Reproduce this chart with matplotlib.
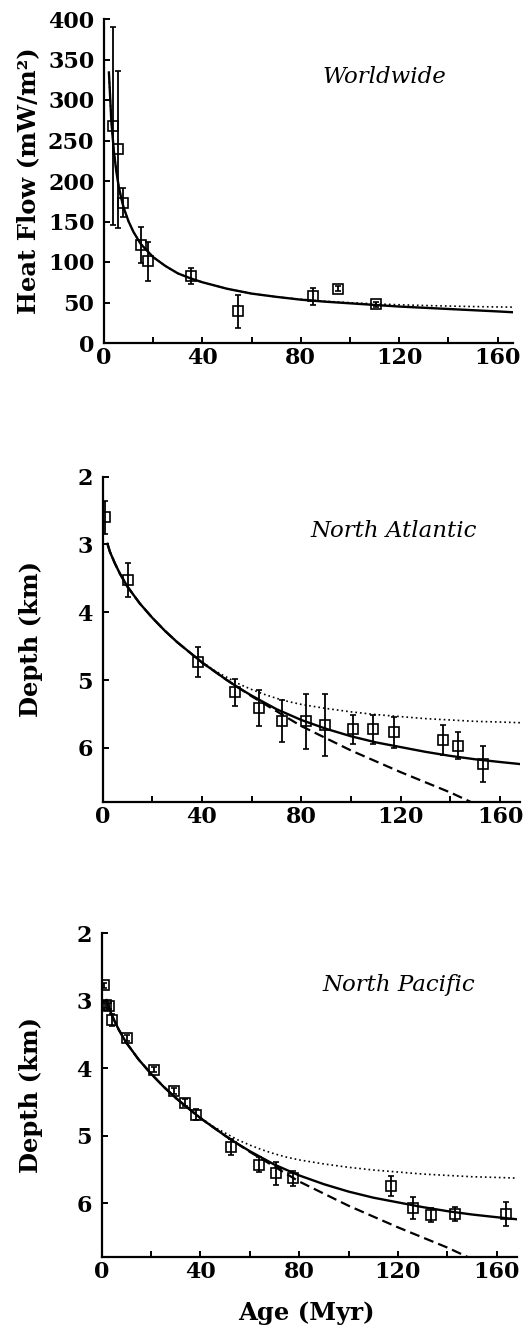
import numpy as np
import matplotlib.pyplot as plt

# --- worldwide heat flow data (age Myr, heat flow mW/m2, error)
hf_age = [3.7, 5.8, 7.8, 15.0, 17.9, 35.2, 54.6, 85.0, 95.3, 110.4]
hf_val = [268, 239, 173, 121, 101, 83, 39, 57.5, 67, 48]
hf_err = [122, 97, 18, 22, 24, 10, 20, 10, 3, 3]

# heat flow model curves
hf_model_age = [2, 3, 4, 5, 6, 7, 8, 10, 12, 15, 20, 25, 30, 35, 40, 50, 60, 70,
                80, 90, 100, 110, 120, 130, 140, 150, 160, 166]
hf_solid = [334, 273, 237, 212, 193, 179, 167, 150, 137, 122, 106, 95, 86, 80, 75,
            67, 61, 57, 53.5, 51, 49, 47, 45, 43.5, 42, 40.5, 39, 38]
hf_dotted = [334, 273, 237, 212, 193, 179, 167, 150, 137, 122, 106, 95, 86, 80, 75,
             67, 61, 57, 54, 51.5, 49.8, 48.3, 47.2, 46.3, 45.6, 45, 44.5, 44.3]

# --- North Atlantic depth data
na_age = [1.1, 10.2, 38.6, 53.4, 63.0, 72.2, 81.9, 89.6, 101.0, 109.0, 117.1,
          137.2, 143.2, 153.3]
na_depth = [2.60, 3.53, 4.74, 5.18, 5.41, 5.61, 5.61, 5.66, 5.73, 5.73, 5.77,
            5.89, 5.97, 6.24]
na_err = [0.24, 0.25, 0.22, 0.20, 0.27, 0.31, 0.41, 0.46, 0.21, 0.22, 0.23,
          0.22, 0.20, 0.27]

# --- North Pacific depth data
np_age = [0.9, 2.0, 3.0, 4.3, 10.4, 21.3, 29.5, 33.7, 38.2, 52.6, 63.7, 70.5,
          77.6, 117.2, 126.3, 133.4, 143.3, 163.8]
np_depth = [2.77, 3.07, 3.08, 3.29, 3.55, 4.02, 4.34, 4.51, 4.69, 5.17, 5.43,
            5.56, 5.63, 5.75, 6.07, 6.18, 6.16, 6.16]
np_err = [0.04, 0.04, 0.04, 0.09, 0.04, 0.04, 0.04, 0.05, 0.08, 0.12, 0.11,
          0.17, 0.11, 0.15, 0.16, 0.10, 0.10, 0.18]

# depth model curves (same in both depth panels)
d_model_age = [2, 3, 5, 7, 10, 15, 20, 25, 30, 35, 40, 45, 50, 55, 60, 65, 70, 75,
               80, 90, 100, 110, 120, 130, 140, 150, 160, 168]
d_solid = [2.99, 3.11, 3.28, 3.43, 3.62, 3.87, 4.08, 4.27, 4.44, 4.59, 4.74, 4.87,
           5.00, 5.12, 5.23, 5.33, 5.43, 5.51, 5.59, 5.72, 5.83, 5.92, 5.99, 6.06,
           6.12, 6.17, 6.21, 6.24]
d_dotted = [2.99, 3.11, 3.28, 3.43, 3.62, 3.87, 4.08, 4.27, 4.44, 4.59, 4.73, 4.86,
            4.96, 5.06, 5.14, 5.21, 5.27, 5.32, 5.36, 5.42, 5.47, 5.51, 5.54, 5.57,
            5.59, 5.61, 5.62, 5.63]
d_dash_age = [2, 3, 5, 7, 10, 15, 20, 25, 30, 35, 40, 45, 50, 55, 60, 65, 70, 75,
              80, 90, 100, 110, 120, 130, 140, 150]
d_dashed = [2.99, 3.11, 3.28, 3.43, 3.62, 3.87, 4.08, 4.27, 4.44, 4.59, 4.74, 4.87,
            5.00, 5.12, 5.24, 5.35, 5.46, 5.57, 5.68, 5.86, 6.04, 6.20, 6.36, 6.51,
            6.66, 6.83]

W, H = 528, 1327
fig = plt.figure(figsize=(W / 100, H / 100), dpi=100)

def px_axes(left, top, right, bottom):
    return fig.add_axes([left / W, 1 - bottom / H, (right - left) / W, (bottom - top) / H])

tickfont = dict(family='DejaVu Serif', weight='bold', size=16)
labfont = dict(family='DejaVu Serif', weight='bold', size=17.5)

def style(ax):
    for s in ['top', 'right']:
        ax.spines[s].set_visible(False)
    for s in ['left', 'bottom']:
        ax.spines[s].set_linewidth(1.6)
    ax.tick_params(direction='in', length=4, width=1.4, which='both')
    ax.tick_params(axis='x', pad=3)
    ax.tick_params(axis='y', pad=7)
    ax.set_xticks([0, 40, 80, 120, 160])
    ax.set_xticks([20, 60, 100, 140], minor=True)
    for t in ax.get_xticklabels() + ax.get_yticklabels():
        t.set_fontfamily(tickfont['family'])
        t.set_fontweight(tickfont['weight'])
        t.set_fontsize(tickfont['size'])

eb = dict(fmt='s', mfc='none', mec='black', ms=7.5, mew=1.2, ecolor='black',
          elinewidth=1.3, capsize=2.5, capthick=1.3, color='black')

# ---- Worldwide heat flow
ax1 = px_axes(104, 19, 513, 343)
ax1.plot(hf_model_age, hf_dotted, color='black', lw=1.2, ls=(0, (1, 1.8)))
ax1.plot(hf_model_age, hf_solid, color='black', lw=1.7)
ax1.errorbar(hf_age, hf_val, yerr=hf_err, **eb)
ax1.set_xlim(0, 166.3)
ax1.set_ylim(0, 400)
ax1.set_yticks(np.arange(0, 401, 50))
style(ax1)
ax1.set_ylabel('Heat Flow (mW/m²)', **labfont)
ax1.yaxis.set_label_coords(-0.155, 0.5)
ax1.text(114, 329, 'Worldwide', family='DejaVu Serif', style='italic', size=16.5,
         ha='center', va='center')

# ---- depth panels
def depth_panel(ax, age, depth, err, name, tx, ty):
    ax.plot(d_model_age, d_dotted, color='black', lw=1.2, ls=(0, (1, 1.8)))
    ax.plot(d_dash_age, d_dashed, color='black', lw=1.6, ls=(0, (4.5, 2.3)))
    ax.plot(d_model_age, d_solid, color='black', lw=1.7)
    ax.errorbar(age, depth, yerr=err, **eb)
    ax.set_xlim(0, 168)
    ax.set_ylim(6.8, 2)
    ax.set_yticks([2, 3, 4, 5, 6])
    style(ax)
    ax.set_ylabel('Depth (km)', **labfont)
    ax.text(tx, ty, name, family='DejaVu Serif', style='italic', size=16.5,
            ha='center', va='center')

ax2 = px_axes(102.5, 476.7, 520, 802)
depth_panel(ax2, na_age, na_depth, na_err, 'North Atlantic', 117.3, 2.80)
ax2.yaxis.set_label_coords(-0.143, 0.5)

ax3 = px_axes(101.5, 933.3, 516.5, 1257)
depth_panel(ax3, np_age, np_depth, np_err, 'North Pacific', 120.5, 2.77)
ax3.yaxis.set_label_coords(-0.141, 0.5)
ax3.set_xlabel('Age (Myr)', **labfont)
ax3.xaxis.set_label_coords(0.493, -0.135)

fig.savefig('out.png', dpi=100)
